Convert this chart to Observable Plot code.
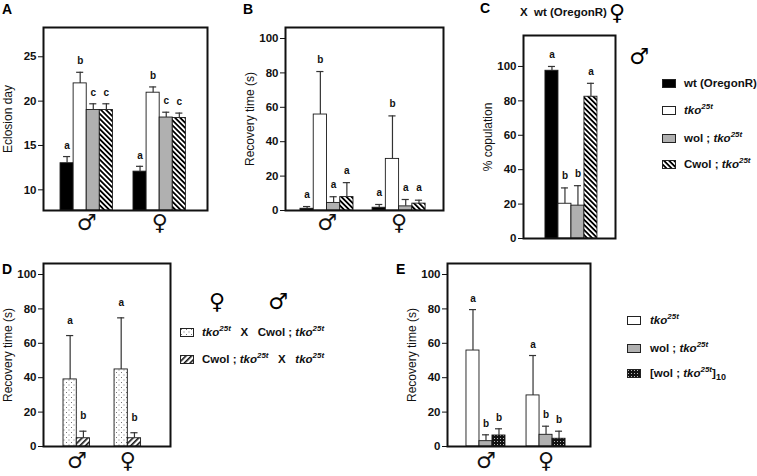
<!DOCTYPE html>
<html><head><meta charset="utf-8">
<script src="https://cdn.jsdelivr.net/npm/d3@7"></script>
<script src="https://cdn.jsdelivr.net/npm/@observablehq/plot@0.6"></script>
<style>
body{margin:0;background:#fff;}
#fig{position:relative;width:757px;height:476px;font-family:"Liberation Sans",Arial,sans-serif;overflow:hidden;background:#fff;}
.plab{position:absolute;font-weight:bold;font-size:14px;line-height:14px;}
.leg{position:absolute;font-weight:bold;font-size:11.5px;line-height:14px;white-space:nowrap;color:#111;}
.leg sup{font-size:8px;vertical-align:5px;line-height:0;font-style:italic;}
.leg sub{font-size:9px;vertical-align:-3px;line-height:0;}
.sw{position:absolute;}
.sym{position:absolute;font-family:"DejaVu Sans";font-weight:bold;font-size:22px;line-height:22px;transform:translate(-50%,-50%);}
</style></head>
<body>
<div id="fig">
<svg width="0" height="0" style="position:absolute">
<defs>
<pattern id="hatchB" patternUnits="userSpaceOnUse" width="3.6" height="3.6" patternTransform="rotate(-45)"><rect width="3.6" height="3.6" fill="#fff"/><rect width="1.8" height="3.6" fill="#000"/></pattern>
<pattern id="hatchF" patternUnits="userSpaceOnUse" width="4" height="4" patternTransform="rotate(45)"><rect width="4" height="4" fill="#fff"/><rect width="1.6" height="4" fill="#111"/></pattern>
<pattern id="dotsL" patternUnits="userSpaceOnUse" width="5" height="5"><rect width="5" height="5" fill="#fff"/><rect x="1" y="1" width="1" height="1" fill="#777"/><rect x="3.5" y="3.5" width="1" height="1" fill="#777"/></pattern>
<pattern id="dotsD" patternUnits="userSpaceOnUse" width="3" height="3"><rect width="3" height="3" fill="#111"/><rect x="1" y="1" width="1" height="1" fill="#bbb"/></pattern>
</defs></svg>
</div>
<script>
// ---------------- Data ----------------
const sexes = ["♂", "♀"];
const genotypes = ["wt (OregonR)", "tko25t", "wol ; tko25t", "Cwol ; tko25t"];
// A: eclosion day
const eclosionTicks = [10, 15, 20, 25];
const eclosionMale = [13.0, 22.0, 19.0, 19.0];
const eclosionMaleErr = [0.75, 1.25, 0.7, 0.7];
const eclosionFemale = [12.05, 20.95, 18.15, 18.1];
const eclosionFemaleErr = [0.6, 0.65, 0.6, 0.55];
const eclosionLetters = ["a", "b", "c", "c"];
// B: recovery time
const recoveryTicks = [0, 20, 40, 60, 80, 100];
const recoveryMaleB = [1.0, 55.8, 4.4, 7.8];
const recoveryMaleBErr = [1.3, 25.0, 3.6, 8.4];
const recoveryFemaleB = [1.6, 30.0, 2.4, 4.0];
const recoveryFemaleBErr = [1.9, 25.0, 4.0, 2.0];
const recoveryLettersB = ["a", "b", "a", "a"];
// C: % copulation (x wt (OregonR) female)
const copulationTicks = [0, 20, 40, 60, 80, 100];
const copulation = [97.5, 20.2, 19.1, 82.4];
const copulationErr = [2.5, 9.2, 11.6, 7.8];
const copulationLetters = ["a", "b", "b", "a"];
// D: reciprocal crosses
const crosses = ["tko25t X Cwol ; tko25t", "Cwol ; tko25t X tko25t"];
const recoveryMaleD = [39.0, 4.8];
const recoveryMaleDErr = [25.5, 4.1];
const recoveryFemaleD = [44.8, 4.8];
const recoveryFemaleDErr = [30.0, 3.2];
const lettersD = ["a", "b"];
// E
const genotypesE = ["tko25t", "wol ; tko25t", "[wol ; tko25t]10"];
const recoveryMaleE = [55.8, 3.1, 6.4];
const recoveryMaleEErr = [23.8, 3.7, 3.9];
const recoveryFemaleE = [29.7, 6.8, 4.5];
const recoveryFemaleEErr = [23.2, 5.0, 4.4];
const lettersE = ["a", "b", "b"];

// ---------------- Drawing ----------------
const fig = document.getElementById("fig");
const fillsABC = ["#000", "#fff", "#b0b0b0", "url(#hatchB)"];
const fillsD = ["url(#dotsL)", "url(#hatchF)"];
const fillsE = ["#fff", "#b0b0b0", "url(#dotsD)"];

function fmt(s) {
  return s.replace(/tko25t/g, '<i>tko</i><sup>25t</sup>').replace(/\]10/, ']<sub>10</sub>');
}
function addDiv(cls, html, left, top) {
  const d = document.createElement("div");
  d.className = cls; d.innerHTML = html;
  d.style.left = left + "px"; d.style.top = top + "px";
  fig.appendChild(d); return d;
}
function swatch(fill, left, cy) {
  const ns = "http://www.w3.org/2000/svg";
  const s = document.createElementNS(ns, "svg");
  s.setAttribute("width", 14); s.setAttribute("height", 9);
  s.setAttribute("class", "sw");
  s.style.left = left + "px"; s.style.top = (cy - 4.5) + "px";
  const r = document.createElementNS(ns, "rect");
  r.setAttribute("x", 0.5); r.setAttribute("y", 0.5); r.setAttribute("width", 13); r.setAttribute("height", 8);
  r.setAttribute("fill", fill); r.setAttribute("stroke", "#222"); r.setAttribute("stroke-width", 1);
  s.appendChild(r); fig.appendChild(s);
}

function panel(cfg) {
  const rows = [];
  cfg.groups.forEach((g, gi) => {
    g.mean.forEach((m, i) => {
      const x1 = cfg.starts[gi] + i;
      rows.push({x1, x2: x1 + 1, xc: x1 + 0.5, mean: m, top: m + g.err[i], letter: g.letters[i], fill: cfg.fills[i]});
    });
  });
  const centers = cfg.groups.map((g, gi) => ({sex: g.sex, xc: cfg.starts[gi] + g.mean.length / 2}));
  const marks = [
    Plot.rect(rows, {x1: "x1", x2: "x2", y1: () => cfg.yDomain[0], y2: "mean", fill: "fill", stroke: "#1a1a1a", strokeWidth: 0.9}),
    Plot.ruleX(rows, {x: "xc", y1: "mean", y2: "top", stroke: "#333", strokeWidth: 1.2}),
    Plot.ruleY(rows, {y: "top", x1: d => d.xc - 0.27, x2: d => d.xc + 0.27, stroke: "#333", strokeWidth: 1.2}),
    Plot.text(rows, {x: "xc", y: "top", text: "letter", dy: cfg.letterDy, fontSize: 10, fontWeight: "bold"}),
    Plot.axisY({ticks: cfg.ticks, tickSize: 5, tickPadding: 2, tickFormat: d => String(d), fontSize: 11.5, fontWeight: "bold", label: null}),
    Plot.text([cfg.yLabel], {text: d => d, frameAnchor: "left", textAnchor: "middle", rotate: -90, dx: -35, fontSize: 12, fontWeight: "normal"}),
    Plot.frame({stroke: "#111", strokeWidth: 2})
  ];
  if (cfg.sexDy) marks.push(Plot.text(centers, {x: "xc", frameAnchor: "bottom", dy: cfg.sexDy, text: "sex", fontSize: 22, fontFamily: "DejaVu Sans", fontWeight: "bold"}));
  const svg = Plot.plot({
    width: cfg.width, height: cfg.height,
    marginLeft: cfg.mL, marginTop: cfg.mT, marginRight: cfg.mR, marginBottom: cfg.mB,
    style: {fontFamily: "Liberation Sans, Arial, sans-serif", fontSize: "11px", color: "#111", background: "transparent", overflow: "visible"},
    x: {domain: [0, cfg.units], axis: null},
    y: {domain: cfg.yDomain},
    color: {type: "identity"},
    marks
  });
  svg.style.position = "absolute";
  svg.style.left = cfg.left + "px";
  svg.style.top = cfg.top + "px";
  fig.appendChild(svg);
}

// Panel A
panel({left: 0, top: 0, width: 215, height: 245, mL: 43, mT: 27, mR: 8, mB: 35,
  yDomain: [7.67, 28.3], ticks: eclosionTicks, yLabel: "Eclosion day",
  units: 12.52, starts: [1.3, 6.87], fills: fillsABC, letterDy: -11, sexDy: 19,
  groups: [
    {sex: sexes[0], mean: eclosionMale, err: eclosionMaleErr, letters: eclosionLetters},
    {sex: sexes[1], mean: eclosionFemale, err: eclosionFemaleErr, letters: eclosionLetters}
  ]});
// Panel B
panel({left: 240, top: 0, width: 210, height: 245, mL: 45, mT: 27, mR: 7, mB: 35,
  yDomain: [0, 106.4], ticks: recoveryTicks, yLabel: "Recovery time (s)",
  units: 11.92, starts: [1.13, 6.57], fills: fillsABC, letterDy: -12, sexDy: 19,
  groups: [
    {sex: sexes[0], mean: recoveryMaleB, err: recoveryMaleBErr, letters: recoveryLettersB},
    {sex: sexes[1], mean: recoveryFemaleB, err: recoveryFemaleBErr, letters: recoveryLettersB}
  ]});
// Panel C
panel({left: 470, top: 0, width: 150, height: 246, mL: 53, mT: 35, mR: 5, mB: 8,
  yDomain: [0, 118], ticks: copulationTicks, yLabel: "% copulation",
  units: 7.08, starts: [1.69], fills: fillsABC, letterDy: -12, sexDy: 0,
  groups: [{sex: "", mean: copulation, err: copulationErr, letters: copulationLetters}]});
// Panel D
panel({left: 0, top: 236, width: 175, height: 240, mL: 43, mT: 27, mR: 5, mB: 30,
  yDomain: [0, 106.4], ticks: recoveryTicks, yLabel: "Recovery time (s)",
  units: 9.58, starts: [1.51, 5.36], fills: fillsD, letterDy: -15, sexDy: 21,
  groups: [
    {sex: sexes[0], mean: recoveryMaleD, err: recoveryMaleDErr, letters: lettersD},
    {sex: sexes[1], mean: recoveryFemaleD, err: recoveryFemaleDErr, letters: lettersD}
  ]});
// Panel E
panel({left: 400, top: 236, width: 195, height: 240, mL: 47, mT: 27, mR: 5, mB: 30,
  yDomain: [0, 106.4], ticks: recoveryTicks, yLabel: "Recovery time (s)",
  units: 11.0, starts: [1.46, 6.08], fills: fillsE, letterDy: -11, sexDy: 21,
  groups: [
    {sex: sexes[0], mean: recoveryMaleE, err: recoveryMaleEErr, letters: lettersE},
    {sex: sexes[1], mean: recoveryFemaleE, err: recoveryFemaleEErr, letters: lettersE}
  ]});

// Panel letters
addDiv("plab", "A", 2, 2);
addDiv("plab", "B", 243, 2);
addDiv("plab", "C", 480, 1);
addDiv("plab", "D", 2, 262);
addDiv("plab", "E", 396, 262);

// C title and legend
addDiv("leg", "X&nbsp; wt (OregonR)", 520, 5);
addDiv("sym", sexes[1], 617, 13);
addDiv("sym", sexes[0], 639, 57);
[83, 110, 138, 164].forEach((cy, i) => {
  swatch(fillsABC[i], 662, cy);
  addDiv("leg", fmt(genotypes[i]), 684, cy - 7);
});

// D legend
addDiv("sym", sexes[1], 217, 302);
addDiv("sym", sexes[0], 278, 302);
[332, 359].forEach((cy, i) => {
  swatch(fillsD[i], 180, cy);
  const parts = crosses[i].split(" X ");
  addDiv("leg", fmt(parts[0]) + "&nbsp;&nbsp; X &nbsp;&nbsp;" + fmt(parts[1]), 202, cy - 7);
});

// E legend
[320, 348, 373].forEach((cy, i) => {
  swatch(fillsE[i], 627, cy);
  addDiv("leg", fmt(genotypesE[i]), 650, cy - 7);
});
</script>
</body></html>
